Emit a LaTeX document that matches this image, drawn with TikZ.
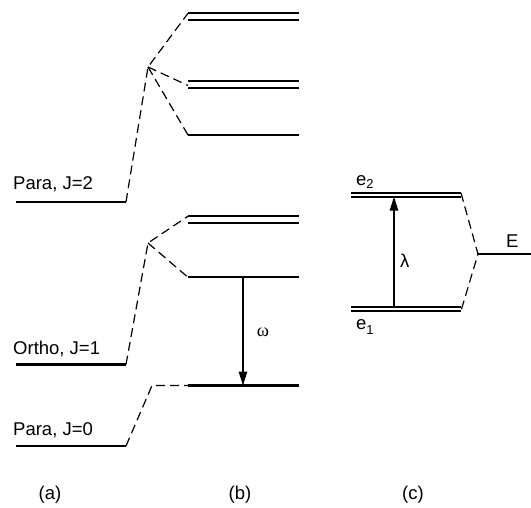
\documentclass[tikz,border=0pt]{standalone}
\usepackage{fontspec}
\setmainfont{Liberation Sans}
\newfontfamily\greekserif{Liberation Serif}
\usetikzlibrary{arrows.meta}
\begin{document}
\begin{tikzpicture}[x=1pt,y=-1pt,
  level/.style={line width=2.1pt},
  thinlevel/.style={line width=1.8pt},
  corr/.style={line width=1.2pt,dash pattern=on 9pt off 5pt},
  trans/.style={line width=1.3pt,-{Triangle[length=14pt,width=8.5pt]}},
  lbl/.style={font=\fontsize{18.5}{22}\selectfont,inner sep=0pt}]
\useasboundingbox (0,0) rectangle (531,508);
% ---- (a) levels
\coordinate (p2a) at (16,202);   \coordinate (p2b) at (126,202);
\coordinate (o1a) at (16,364.5); \coordinate (o1b) at (126,364.5);
\coordinate (p0a) at (16,446);   \coordinate (p0b) at (126,446);
\draw[level] (p2a) -- (p2b);
\draw[level] (o1a) -- (o1b);
\draw[level] (p0a) -- (p0b);
\node[lbl,anchor=base west] (tp2) at (13,190) {Para, J=2};
\node[lbl,anchor=base west] (to1) at (13,354) {Ortho, J=1};
\node[lbl,anchor=base west] (tp0) at (13,435) {Para, J=0};
% ---- (b) levels
\coordinate (b1a) at (188,13.3);  \coordinate (b1b) at (299,13.3);
\coordinate (b1c) at (188,19.7);  \coordinate (b1d) at (299,19.7);
\coordinate (b2a) at (188,81.2);  \coordinate (b2b) at (299,81.2);
\coordinate (b2c) at (188,87.7);  \coordinate (b2d) at (299,87.7);
\coordinate (b3a) at (188,135);   \coordinate (b3b) at (299,135);
\coordinate (b4a) at (188,216.2); \coordinate (b4b) at (299,216.2);
\coordinate (b4c) at (188,223.2); \coordinate (b4d) at (299,223.2);
\coordinate (b5a) at (188,277.3); \coordinate (b5b) at (299,277.3);
\coordinate (b6a) at (188,385.5); \coordinate (b6b) at (299,385.5);
\foreach \s/\e in {b1a/b1b,b1c/b1d,b2a/b2b,b2c/b2d,b4a/b4b,b4c/b4d}
  \draw[thinlevel] (\s) -- (\e);
\draw[level] (b3a) -- (b3b);
\draw[level] (b5a) -- (b5b);
\draw[level] (b6a) -- (b6b);
% ---- correlation lines
\coordinate (br2) at (148,67);
\coordinate (br1) at (148,243);
\coordinate (k0) at (152,385.5);
\draw[corr] (p2b) -- (br2) -- (b1a);
\draw[corr] (br2) -- (188,85.5);
\draw[corr] (br2) -- (b3a);
\draw[corr] (o1b) -- (br1) -- (b4a);
\draw[corr] (br1) -- (b5a);
\draw[corr] (p0b) -- (k0) -- (b6a);
% ---- omega transition
\coordinate (wt) at (243,277.3);
\coordinate (wb) at (243,385.5);
\draw[trans] (wt) -- (wb);
\node[lbl,font=\greekserif\fontsize{18.5}{22}\selectfont] (om) at (263,332) {ω};
% ---- (c)
\coordinate (e2a) at (351,193);   \coordinate (e2b) at (461,193);
\coordinate (e2c) at (351,196.7); \coordinate (e2d) at (461,196.7);
\coordinate (e1a) at (351,307.2); \coordinate (e1b) at (461,307.2);
\coordinate (e1c) at (351,310.8); \coordinate (e1d) at (461,310.8);
\coordinate (Ea) at (478,254);    \coordinate (Eb) at (531,254);
\foreach \s/\e in {e2a/e2b,e2c/e2d,e1a/e1b,e1c/e1d}
  \draw[line width=1.8pt] (\s) -- (\e);
\draw[level] (Ea) -- (Eb);
\draw[corr] (e2b) -- (Ea) -- (e1d);
\coordinate (lb) at (394,307.2);
\coordinate (lt) at (394,196.7);
\draw[trans] (lb) -- (lt);
\node[lbl,anchor=base west] (lam) at (400,268) {λ};
\node[lbl,anchor=base west] (tE) at (506,248) {E};
\node[lbl,anchor=base west] (te2) at (356,186) {e\raisebox{-2.5pt}{\fontsize{13}{15}\selectfont 2}};
\node[lbl,anchor=base west] (te1) at (356,330) {e\raisebox{-5pt}{\fontsize{13}{15}\selectfont 1}};
% ---- captions
\node[lbl,anchor=base] (ca) at (50,499) {(a)};
\node[lbl,anchor=base] (cb) at (240,499) {(b)};
\node[lbl,anchor=base] (cc) at (413,499) {(c)};
\end{tikzpicture}
\end{document}
